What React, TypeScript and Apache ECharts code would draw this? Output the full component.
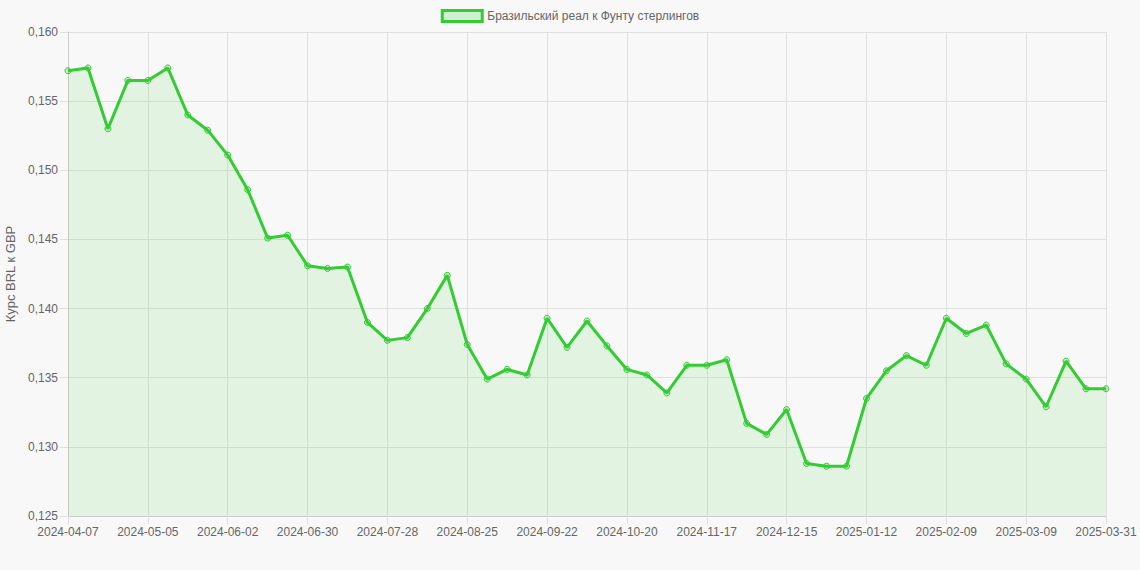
import { useEffect, useRef } from 'react';
import * as echarts from 'echarts';

// weekly dates (the last point is one day after the previous one)
const dates = [
  '2024-04-07', '2024-04-14', '2024-04-21', '2024-04-28', '2024-05-05', '2024-05-12', '2024-05-19', '2024-05-26',
  '2024-06-02', '2024-06-09', '2024-06-16', '2024-06-23', '2024-06-30', '2024-07-07', '2024-07-14', '2024-07-21',
  '2024-07-28', '2024-08-04', '2024-08-11', '2024-08-18', '2024-08-25', '2024-09-01', '2024-09-08', '2024-09-15',
  '2024-09-22', '2024-09-29', '2024-10-06', '2024-10-13', '2024-10-20', '2024-10-27', '2024-11-03', '2024-11-10',
  '2024-11-17', '2024-11-24', '2024-12-01', '2024-12-08', '2024-12-15', '2024-12-22', '2024-12-29', '2025-01-05',
  '2025-01-12', '2025-01-19', '2025-01-26', '2025-02-02', '2025-02-09', '2025-02-16', '2025-02-23', '2025-03-02',
  '2025-03-09', '2025-03-16', '2025-03-23', '2025-03-30', '2025-03-31',
];

const rates = [
  0.1572, 0.1574, 0.1530, 0.1565, 0.1565, 0.1574, 0.1540, 0.1529,
  0.1511, 0.1486, 0.1451, 0.1453, 0.1431, 0.1429, 0.1430, 0.1390,
  0.1377, 0.1379, 0.1400, 0.1424, 0.1374, 0.1349, 0.1356, 0.1352,
  0.1393, 0.1372, 0.1391, 0.1373, 0.1356, 0.1352, 0.1339, 0.1359,
  0.1359, 0.1363, 0.1317, 0.1309, 0.1327, 0.1288, 0.1286, 0.1286,
  0.1335, 0.1355, 0.1366, 0.1359, 0.1393, 0.1382, 0.1388, 0.1360,
  0.1349, 0.1329, 0.1362, 0.1342, 0.1342,
];

const seriesName = 'Бразильский реал к Фунту стерлингов';
const yTitle = 'Курс BRL к GBP';

const GREEN = '#33cc33';
const GRID = '#e0e0e0';
const TEXT = '#666666';
const FONT = '"Liberation Sans", Arial, sans-serif';

const App = () => {
  const chartRef = useRef<HTMLDivElement>(null);

  useEffect(() => {
    if (!chartRef.current) return;
    const chart = echarts.init(chartRef.current, null, { renderer: 'svg' });

    chart.setOption({
      animation: false,
      backgroundColor: '#f8f8f8',
      textStyle: { fontFamily: FONT },
      legend: {
        top: 4,
        left: 'center',
        itemWidth: 40,
        itemHeight: 11,
        itemGap: 10,
        icon: 'rect',
        textStyle: { color: TEXT, fontSize: 12, fontFamily: FONT },
        data: [
          {
            name: seriesName,
            itemStyle: { color: 'rgba(51,204,51,0.2)', borderColor: GREEN, borderWidth: 3 },
          },
        ],
      },
      grid: { left: 68, right: 34, top: 32, bottom: 54, containLabel: false, outerBoundsMode: 'none' },
      xAxis: {
        type: 'category',
        data: dates,
        boundaryGap: false,
        axisLine: { lineStyle: { color: '#cccccc' } },
        axisTick: { show: true, interval: 3, length: 8, lineStyle: { color: GRID } },
        axisLabel: { interval: 3, color: TEXT, fontSize: 12, margin: 10, fontFamily: FONT },
        splitLine: { show: true, interval: 3, lineStyle: { color: GRID } },
      },
      yAxis: {
        type: 'value',
        min: 0.125,
        max: 0.16,
        interval: 0.005,
        name: yTitle,
        nameLocation: 'middle',
        nameGap: 50,
        nameTextStyle: { color: TEXT, fontSize: 13, fontFamily: FONT },
        axisLine: { show: true, lineStyle: { color: '#cccccc' } },
        axisTick: { show: true, length: 8, lineStyle: { color: GRID } },
        axisLabel: {
          color: TEXT,
          fontSize: 12,
          margin: 10,
          fontFamily: FONT,
          formatter: (v: number) => v.toFixed(3).replace('.', ','),
        },
        splitLine: { lineStyle: { color: GRID } },
      },
      series: [
        {
          name: seriesName,
          type: 'line',
          data: rates,
          symbol: 'circle',
          symbolSize: 6,
          showAllSymbol: true,
          itemStyle: { color: 'rgba(51,204,51,0.25)', borderColor: GREEN, borderWidth: 1 },
          lineStyle: { color: GREEN, width: 3 },
          areaStyle: { color: 'rgba(51,204,51,0.15)', origin: 'start' },
        },
      ],
    });

    return () => chart.dispose();
  }, []);

  return (
    <div
      ref={chartRef}
      style={{ position: 'fixed', left: 0, top: 0, width: 1140, height: 570 }}
    />
  );
};

export default App;
